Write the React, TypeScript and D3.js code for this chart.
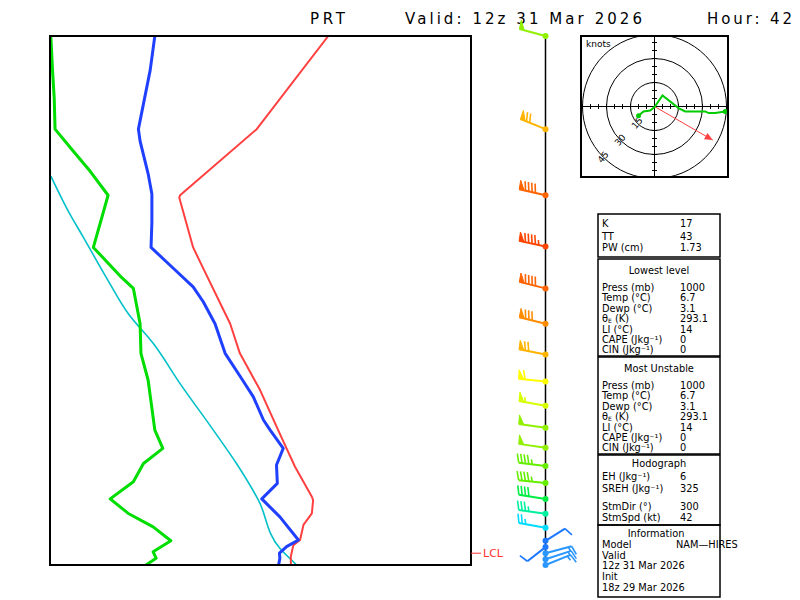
import React from "react";
import * as d3 from "d3";

// ---------- profile data (pressure hPa, value) ----------
const redP = [100, 150, 200, 202, 251, 275, 350, 398, 467, 556, 593, 652, 743, 754, 799, 840, 897, 917, 964, 1000];
const redV = [326.1, 309.1, 290.9, 290.7, 294.0, 296.4, 302.8, 305.1, 309.9, 314.2, 315.8, 318.2, 322.2, 322.5, 322.2, 320.2, 319.4, 317.8, 317.2, 317.2];

const blueP = [100, 116, 150, 158, 182, 199, 225, 251, 273, 298, 318, 350, 398, 444, 481, 532, 556, 602, 647, 701, 750, 811, 897, 923, 950, 971, 1000];
const blueV = [284.9, 283.8, 281.0, 281.4, 283.3, 284.2, 284.2, 284.0, 288.9, 294.0, 296.4, 299.2, 301.6, 305.5, 308.3, 310.7, 312.3, 315.4, 313.8, 314.0, 310.3, 314.6, 319.0, 316.2, 314.5, 314.6, 314.3];

const greenP = [100, 116, 131, 150, 165, 180, 200, 251, 286, 300, 350, 398, 447, 556, 602, 643, 696, 750, 799, 847, 900, 944, 971, 1000];
const greenV = [260.2, 260.6, 261.0, 261.2, 265.5, 269.5, 273.8, 270.3, 277.0, 279.8, 281.4, 281.6, 283.3, 284.9, 286.8, 282.2, 279.8, 274.3, 278.6, 284.5, 288.7, 284.5, 285.2, 282.8];

const cyanP = [184, 214, 240, 290, 335, 381, 454, 556, 643, 754, 930, 1000];
const cyanV = [260.2, 264.3, 267.9, 273.8, 278.6, 284.5, 290.9, 298.8, 304.3, 309.5, 314.6, 318.6];

const lclP = 950;

// ---------- winds ----------
const windP = [100, 150, 200, 250, 300, 350, 400, 450, 500, 550, 600, 650, 700, 750, 800, 850, 900, 925, 950, 975, 1000];
const windDir = [285, 292, 283, 282, 284, 284, 281, 276, 280, 278, 278, 277, 276, 279, 278, 280, 58, 232, 75, 72, 68];
const windSpd = [50, 70, 90, 95, 90, 80, 70, 60, 55, 50, 50, 45, 45, 40, 35, 25, 10, 10, 15, 15, 15];

const spdStops = [10, 15, 25, 35, 40, 45, 50, 55, 60, 70, 80, 90, 95];
const spdColors = ["#1e78ff", "#2a96ff", "#00dcff", "#00f0a0", "#00ee44", "#66ee00", "#90f000", "#d8ff00", "#ffff00", "#ffb400", "#ff8c00", "#ff6400", "#ff4600"];

// ---------- hodograph (knots) ----------
const hodoU = [-10, -6.9, -2.7, 0, 5, 15, 19.2, 31.7, 33.8, 37.9, 44.2];
const hodoV = [-5.8, -3.1, -2.5, -0.4, 6.9, -1, -3.1, -3.1, -4.1, -4.1, -3.1];
const hodoRings = [15, 30, 45];
const stormDir = 300;
const stormSpd = 42;

// ---------- text ----------
const stationName = "PRT";
const validText = "Valid: 12z 31 Mar 2026";
const hourText = "Hour: 42";

const idxLabels = ["K", "TT", "PW (cm)"];
const idxValues = ["17", "43", "1.73"];
const parcelLabels = ["Press (mb)", "Temp (°C)", "Dewp (°C)", "θE", "LI (°C)", "CAPE (Jkg⁻¹)", "CIN (Jkg⁻¹)"];
const lowestValues = ["1000", "6.7", "3.1", "293.1", "14", "0", "0"];
const muValues = ["1000", "6.7", "3.1", "293.1", "14", "0", "0"];
const hodoLabels = ["EH (Jkg⁻¹)", "SREH (Jkg⁻¹)", "StmDir (°)", "StmSpd (kt)"];
const hodoValues = ["6", "325", "300", "42"];
const infoLines = ["Model", "Valid", "12z 31 Mar 2026", "Init", "18z 29 Mar 2026"];
const modelName = "NAM—HIRES";

const FONT = "'DejaVu Sans', sans-serif";

function Barb({ cx, cy, dir, spd, color }: { cx: number; cy: number; dir: number; spd: number; color: string }) {
  const r = (dir * Math.PI) / 180;
  const dx = Math.sin(r);
  const dy = -Math.cos(r);
  const px = -dy;
  const py = dx;
  const L = spd <= 10 ? 23 : 27;
  const bl = 9;
  const sp = 3.4;
  const tx = cx + dx * L;
  const ty = cy + dy * L;
  let s = Math.round(spd / 5) * 5;
  const nP = Math.floor(s / 50);
  s -= nP * 50;
  const nF = Math.floor(s / 10);
  s -= nF * 10;
  const nH = s >= 5 ? 1 : 0;
  const els: React.ReactNode[] = [];
  let pos = 0;
  for (let i = 0; i < nP; i++) {
    const ax = tx - dx * pos, ay = ty - dy * pos;
    const bx = tx - dx * (pos + 5), by = ty - dy * (pos + 5);
    const cxp = ax + px * bl + dx * 0.5, cyp = ay + py * bl + dy * 0.5;
    els.push(<polygon key={"p" + i} points={`${ax},${ay} ${cxp},${cyp} ${bx},${by}`} fill={color} stroke={color} strokeWidth={1} />);
    pos += 6.5;
  }
  if (nP === 0 && nF === 0 && nH) pos += sp;
  for (let i = 0; i < nF; i++) {
    const ax = tx - dx * pos, ay = ty - dy * pos;
    els.push(<line key={"f" + i} x1={ax} y1={ay} x2={ax + px * bl + dx * 2.5} y2={ay + py * bl + dy * 2.5} stroke={color} strokeWidth={1.6} />);
    pos += sp;
  }
  if (nH) {
    const ax = tx - dx * pos, ay = ty - dy * pos;
    els.push(<line key="h" x1={ax} y1={ay} x2={ax + px * bl * 0.55 + dx * 1.4} y2={ay + py * bl * 0.55 + dy * 1.4} stroke={color} strokeWidth={1.6} />);
  }
  return (
    <g>
      <line x1={cx} y1={cy} x2={tx} y2={ty} stroke={color} strokeWidth={2} />
      {els}
    </g>
  );
}

export default function App() {
  const box = { l: 50, t: 36, r: 471, b: 565 };
  const x = d3.scaleLinear().domain([260, 360]).range([box.l, box.r]);
  const y = d3.scaleLog().domain([1000, 100]).range([box.b, box.t]);

  const mk = (P: number[], V: number[]) => P.map((p, i) => [p, V[i]] as [number, number]);
  const line = d3.line<[number, number]>().x((d) => x(d[1])).y((d) => y(d[0]));
  const smooth = d3.line<[number, number]>().x((d) => x(d[1])).y((d) => y(d[0])).curve(d3.curveMonotoneY);

  const spdColor = d3.scaleLinear<string>().domain(spdStops).range(spdColors).clamp(true);
  const barbX = 545.5;

  // hodograph
  const hb = { l: 581, t: 36, r: 728, b: 177 };
  const hcx = 654.5, hcy = 106.5;
  const kscale = 1.6;
  const hx = d3.scaleLinear().domain([-1, 1]).range([hcx - kscale, hcx + kscale]);
  const hy = d3.scaleLinear().domain([-1, 1]).range([hcy + kscale, hcy - kscale]);
  const hodoPts = hodoU.map((u, i) => [u, hodoV[i]] as [number, number]);
  const hodoLine = d3.line<[number, number]>().x((d) => hx(d[0])).y((d) => hy(d[1]));
  const sr = (stormDir * Math.PI) / 180;
  const su = -stormSpd * Math.sin(sr);
  const sv = -stormSpd * Math.cos(sr);
  const ax2 = hx(su), ay2 = hy(sv);
  const ang = Math.atan2(ay2 - hcy, ax2 - hcx);
  const ah = 8, aw = 3.5;
  const arrowPts = [
    [ax2, ay2],
    [ax2 - ah * Math.cos(ang) + aw * Math.sin(ang), ay2 - ah * Math.sin(ang) - aw * Math.cos(ang)],
    [ax2 - ah * Math.cos(ang) - aw * Math.sin(ang), ay2 - ah * Math.sin(ang) + aw * Math.cos(ang)],
  ];
  const ticks: number[] = d3.range(-45, 46, 5).filter((v) => v !== 0);

  // panel
  const pl = 598, pr = 720;
  const labX = 602, valX = 680, midX = 659;
  const fs = 9.8;

  const parcelRows = (top: number, title: string, vals: string[]) => (
    <g>
      <text x={midX} y={top + 16} textAnchor="middle">{title}</text>
      {parcelLabels.map((lab, i) => (
        <g key={lab}>
          <text x={labX} y={top + 33 + i * 10.4}>
            {lab === "θE" ? (
              <>
                <tspan>θ</tspan>
                <tspan fontSize={6} dy={1}>E</tspan>
                <tspan dy={-1}>{"  (K)"}</tspan>
              </>
            ) : (
              lab
            )}
          </text>
          <text x={valX} y={top + 33 + i * 10.4}>{vals[i]}</text>
        </g>
      ))}
    </g>
  );

  return (
    <svg width={800} height={600} style={{ position: "absolute", left: 0, top: 0, background: "#fff" }} fontFamily={FONT}>
      <rect x={0} y={0} width={800} height={600} fill="#fff" />
      {/* title */}
      <g fontSize={15} fill="#000">
        <text x={310} y={24} textLength={35} lengthAdjust="spacing">{stationName}</text>
        <text x={405} y={24} textLength={237} lengthAdjust="spacing">{validText}</text>
        <text x={707} y={24} textLength={85} lengthAdjust="spacing">{hourText}</text>
      </g>

      {/* main profile box */}
      <defs>
        <clipPath id="mainclip">
          <rect x={box.l} y={box.t} width={box.r - box.l} height={box.b - box.t} />
        </clipPath>
        <clipPath id="hodoclip">
          <rect x={hb.l} y={hb.t} width={hb.r - hb.l} height={hb.b - hb.t} />
        </clipPath>
      </defs>
      <g clipPath="url(#mainclip)" fill="none" strokeLinejoin="round">
        <path d={smooth(mk(cyanP, cyanV)) || ""} stroke="#00c0c8" strokeWidth={1.6} />
        <path d={line(mk(greenP, greenV)) || ""} stroke="#00dd00" strokeWidth={3} />
        <path d={line(mk(redP, redV)) || ""} stroke="#ff4040" strokeWidth={2} />
        <path d={line(mk(blueP, blueV)) || ""} stroke="#2040ff" strokeWidth={3} />
      </g>
      <rect x={box.l} y={box.t} width={box.r - box.l} height={box.b - box.t} fill="none" stroke="#000" strokeWidth={2} />

      {/* LCL */}
      <line x1={box.r} x2={box.r + 10} y1={y(lclP)} y2={y(lclP)} stroke="#ff3030" strokeWidth={1} />
      <text x={box.r + 12} y={y(lclP) + 4} fontSize={11} fill="#ff3030" textLength={20} lengthAdjust="spacing">LCL</text>

      {/* wind barbs */}
      <line x1={barbX} x2={barbX} y1={y(100)} y2={y(1000)} stroke="#000" strokeWidth={1.5} />
      {windP.map((p, i) => (
        <Barb key={p} cx={barbX} cy={y(p)} dir={windDir[i]} spd={windSpd[i]} color={spdColor(windSpd[i])} />
      ))}
      {windP.map((p, i) => (
        <circle key={"c" + p} cx={barbX} cy={y(p)} r={3} fill={spdColor(windSpd[i])} />
      ))}

      {/* hodograph */}
      <g clipPath="url(#hodoclip)">
        {hodoRings.map((k) => (
          <circle key={k} cx={hcx} cy={hcy} r={k * kscale} fill="none" stroke="#000" strokeWidth={1} />
        ))}
        <line x1={hb.l} x2={hb.r} y1={hcy} y2={hcy} stroke="#000" strokeWidth={1} />
        <line x1={hcx} x2={hcx} y1={hb.t} y2={hb.b} stroke="#000" strokeWidth={1} />
        {ticks.map((t) => (
          <g key={t}>
            <line x1={hx(t)} x2={hx(t)} y1={hcy - 2.5} y2={hcy + 2.5} stroke="#000" strokeWidth={1} />
            <line x1={hcx - 2.5} x2={hcx + 2.5} y1={hy(t)} y2={hy(t)} stroke="#000" strokeWidth={1} />
          </g>
        ))}
        {hodoRings.map((k) => {
          const a = (225 * Math.PI) / 180;
          const lx = hx(k * Math.sin(a));
          const ly = hy(k * Math.cos(a));
          return (
            <text key={"l" + k} x={lx} y={ly} fontSize={9} textAnchor="middle" dominantBaseline="middle" transform={`rotate(-50 ${lx} ${ly})`} fill="#000">
              {k}
            </text>
          );
        })}
        <line x1={hcx} y1={hcy} x2={ax2} y2={ay2} stroke="#ff4040" strokeWidth={1} />
        <polygon points={arrowPts.map((p) => p.join(",")).join(" ")} fill="#ff4040" />
        <path d={hodoLine(hodoPts) || ""} fill="none" stroke="#00cc00" strokeWidth={2} />
        <circle cx={hx(hodoU[0])} cy={hy(hodoV[0])} r={2.5} fill="#00cc00" />
        <circle cx={hx(hodoU[hodoU.length - 1])} cy={hy(hodoV[hodoV.length - 1])} r={2.5} fill="#00cc00" />
      </g>
      <rect x={hb.l} y={hb.t} width={hb.r - hb.l} height={hb.b - hb.t} fill="none" stroke="#000" strokeWidth={2} />
      <text x={586} y={47} fontSize={9} fill="#000">knots</text>

      {/* info panel */}
      <g fontSize={fs} fill="#000">
        <rect x={pl} y={214} width={pr - pl} height={43} fill="none" stroke="#000" strokeWidth={1.5} />
        {idxLabels.map((lab, i) => (
          <g key={lab}>
            <text x={labX} y={[227, 240, 251][i]}>{lab}</text>
            <text x={valX} y={[227, 240, 251][i]}>{idxValues[i]}</text>
          </g>
        ))}
        <rect x={pl} y={259} width={pr - pl} height={97} fill="none" stroke="#000" strokeWidth={1.5} />
        {parcelRows(258, "Lowest level", lowestValues)}
        <rect x={pl} y={357} width={pr - pl} height={97} fill="none" stroke="#000" strokeWidth={1.5} />
        {parcelRows(356, "Most Unstable", muValues)}
        <rect x={pl} y={455} width={pr - pl} height={70} fill="none" stroke="#000" strokeWidth={1.5} />
        <text x={midX} y={467} textAnchor="middle">Hodograph</text>
        {hodoLabels.map((lab, i) => (
          <g key={lab}>
            <text x={labX} y={[480, 492, 510, 521][i]}>{lab}</text>
            <text x={valX} y={[480, 492, 510, 521][i]}>{hodoValues[i]}</text>
          </g>
        ))}
        <rect x={pl} y={525} width={pr - pl} height={72} fill="none" stroke="#000" strokeWidth={1.5} />
        <text x={656} y={537} textAnchor="middle">Information</text>
        {infoLines.map((t, i) => (
          <text key={t} x={labX} y={[548, 558.5, 569, 579.5, 591][i]}>{t}</text>
        ))}
        <text x={676} y={548}>{modelName}</text>
      </g>
    </svg>
  );
}
